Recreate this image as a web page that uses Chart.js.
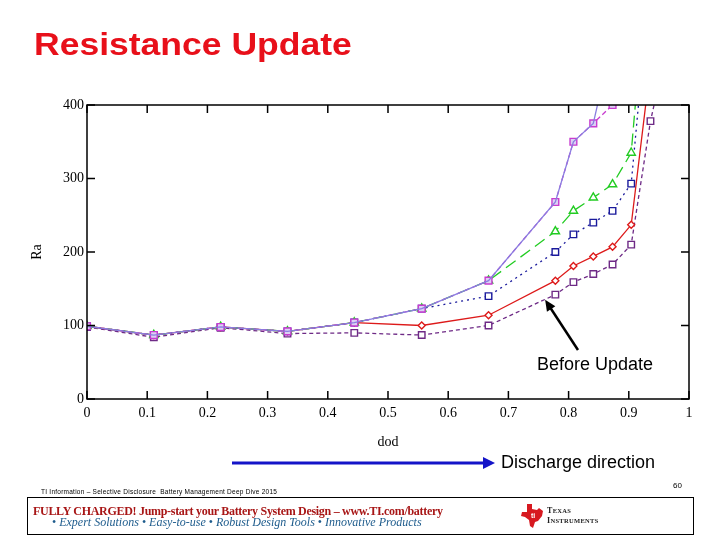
<!DOCTYPE html>
<html>
<head>
<meta charset="utf-8">
<script src="https://cdn.jsdelivr.net/npm/chart.js@4/dist/chart.umd.min.js"></script>
<style>
  html, body { margin:0; padding:0; background:#fff; }
  #wrap { position:relative; width:720px; height:540px; overflow:hidden; }
  #c { position:absolute; left:0; top:0; }
  .t { position:absolute; white-space:nowrap; }
  #title { left:34px; top:28px; font:bold 32px "Liberation Sans", Arial, sans-serif; line-height:32px; color:#e8101a; transform:scaleX(1.11); transform-origin:0 0; }
  #before { left:537px; top:355px; font:18px "Liberation Sans", Arial, sans-serif; line-height:18px; color:#000; }
  #dis { left:501px; top:453px; font:18px "Liberation Sans", Arial, sans-serif; line-height:18px; color:#000; }
  #pg { left:673px; top:482px; font:8px "Liberation Sans", Arial, sans-serif; line-height:8px; color:#000; }
  #tiny { left:41px; top:488px; font:6.5px "Liberation Sans", Arial, sans-serif; line-height:8px; color:#000; letter-spacing:0.25px; }
  #box { position:absolute; left:27px; top:497px; width:667px; height:38px; border:1px solid #000; box-sizing:border-box; }
  #l1 { left:33px; top:504px; font:bold 12px "Liberation Serif", "Times New Roman", serif; line-height:14px; color:#a81616; letter-spacing:-0.3px; }
  #l2 { left:52px; top:516px; font:italic 12px "Liberation Serif", "Times New Roman", serif; line-height:13px; color:#1d5b8c; }
  #l2 b { font-style:normal; font-weight:normal; color:#1d5b8c; }
  #ti1 { left:547px; top:506px; font:bold 8px "Liberation Serif", serif; line-height:9px; color:#222; letter-spacing:0.3px; }
  #ti2 { left:547px; top:516px; font:bold 8px "Liberation Serif", serif; line-height:9px; color:#222; letter-spacing:0.3px; }
</style>
</head>
<body>
<div id="wrap">
  <canvas id="c" width="720" height="540"></canvas>
  <div class="t" id="title">Resistance Update</div>
  <div class="t" id="before">Before Update</div>
  <div class="t" id="dis">Discharge direction</div>
  <div class="t" id="pg">60</div>
  <div class="t" id="tiny">TI Information – Selective Disclosure &nbsp;Battery Management Deep Dive 2015</div>
  <div id="box"></div>
  <div class="t" id="l1">FULLY CHARGED! Jump-start your Battery System Design – www.TI.com/battery</div>
  <div class="t" id="l2"><b>•</b> Expert Solutions <b>•</b> Easy-to-use <b>•</b> Robust Design Tools <b>•</b> Innovative Products</div>
  <svg class="t" style="left:520px;top:503px" width="24" height="26" viewBox="0 0 24 26">
    <path d="M7 1 L12 1 L12 6 L17 7 L19 5 L23 8 L22 13 L18 18 L15 19 L13 25 L10 23 L9 17 L5 14 L1 13 L2 9 L7 9 Z" fill="#d71920"/>
    <text x="11" y="15" font-family="Liberation Sans" font-size="7" font-weight="bold" fill="#fff">ti</text>
  </svg>
  <div class="t" id="ti1">T<span style="font-size:6.5px">EXAS</span></div>
  <div class="t" id="ti2">I<span style="font-size:6.5px">NSTRUMENTS</span></div>
</div>
<script>
// ---- data ----
const dod = [0, 0.111, 0.222, 0.333, 0.444, 0.556, 0.667, 0.778, 0.808, 0.841, 0.873, 0.904, 0.936, 0.967];
const raPurple     = [99, 87, 98, 92, 104, 123, 161, 268, 350, 375, 490];
const raMagenta    = [99, 87, 98, 92, 104, 123, 161, 268, 350, 375, 400, 520];
const raGreen      = [99, 87, 98, 92, 104, 123, 161, 228, 256, 274, 292, 335, 640];
const raBlue       = [99, 87, 98, 92, 104, 123, 140, 200, 224, 240, 256, 293, 577];
const raRed        = [99, 87, 98, 92, 104, 100, 114, 161, 181, 194, 207, 237, 454];
const raBefore     = [98, 84, 97, 89, 90, 87, 100, 142, 159, 170, 183, 210, 378, 492];
const xTicks = [0, 0.1, 0.2, 0.3, 0.4, 0.5, 0.6, 0.7, 0.8, 0.9, 1];
const yTicks = [0, 100, 200, 300, 400];
const xTickLabels = ['0', '0.1', '0.2', '0.3', '0.4', '0.5', '0.6', '0.7', '0.8', '0.9', '1'];
const yTickLabels = ['0', '100', '200', '300', '400'];

const pts = arr => arr.map((v, i) => ({ x: dod[i], y: v }));

const serif = { family: '"Liberation Serif", "Times New Roman", serif', size: 14 };

const ds = (data, color, opts) => Object.assign({
  data: pts(data), borderColor: color, borderWidth: 1.3, pointBorderColor: color,
  pointBackgroundColor: '#fff', pointBorderWidth: 1.4, pointRadius: 4.4, tension: 0, fill: false
}, opts);

const framePlugin = {
  id: 'frame',
  afterDatasetsDraw(chart) {
    const { ctx, chartArea: a, scales: { x, y } } = chart;
    ctx.save();
    ctx.strokeStyle = '#000';
    ctx.lineWidth = 1.5;
    ctx.strokeRect(a.left, a.top, a.right - a.left, a.bottom - a.top);
    ctx.beginPath();
    xTicks.forEach(v => {
      const px = x.getPixelForValue(v);
      ctx.moveTo(px, a.bottom); ctx.lineTo(px, a.bottom - 8);
      ctx.moveTo(px, a.top); ctx.lineTo(px, a.top + 8);
    });
    yTicks.forEach(v => {
      const py = y.getPixelForValue(v);
      ctx.moveTo(a.left, py); ctx.lineTo(a.left + 8, py);
      ctx.moveTo(a.right, py); ctx.lineTo(a.right - 8, py);
    });
    ctx.stroke();

    // "Before Update" arrow pointing at the before-update curve
    const tipX = x.getPixelForValue(0.761), tipY = y.getPixelForValue(135);
    const tailX = 578, tailY = 350;
    const ang = Math.atan2(tipY - tailY, tipX - tailX);
    ctx.strokeStyle = '#000'; ctx.fillStyle = '#000'; ctx.lineWidth = 2.5;
    ctx.beginPath(); ctx.moveTo(tailX, tailY);
    ctx.lineTo(tipX - 8 * Math.cos(ang), tipY - 8 * Math.sin(ang)); ctx.stroke();
    ctx.beginPath(); ctx.moveTo(tipX, tipY);
    ctx.lineTo(tipX - 11 * Math.cos(ang) + 5 * Math.sin(ang), tipY - 11 * Math.sin(ang) - 5 * Math.cos(ang));
    ctx.lineTo(tipX - 11 * Math.cos(ang) - 5 * Math.sin(ang), tipY - 11 * Math.sin(ang) + 5 * Math.cos(ang));
    ctx.closePath(); ctx.fill();

    // Discharge direction arrow
    ctx.strokeStyle = '#1414c8'; ctx.fillStyle = '#1414c8'; ctx.lineWidth = 3;
    ctx.beginPath(); ctx.moveTo(232, 463); ctx.lineTo(484, 463); ctx.stroke();
    ctx.beginPath(); ctx.moveTo(495, 463); ctx.lineTo(483, 457); ctx.lineTo(483, 469); ctx.closePath(); ctx.fill();
    ctx.restore();
  }
};

new Chart(document.getElementById('c'), {
  type: 'line',
  data: {
    datasets: [
      ds(raPurple, '#8a7ee0', { pointRadius: 0 }),
      ds(raMagenta, '#c83cd0', { borderDash: [5, 3], pointStyle: 'rect', pointBackgroundColor: '#dcd0f4', pointRadius: 4.8 }),
      ds(raGreen, '#22cc22', { borderDash: [12, 6], pointStyle: 'triangle', pointRadius: 4.8 }),
      ds(raBlue, '#1a1a9c', { borderDash: [2, 4], pointStyle: 'rect', pointRadius: 4.6 }),
      ds(raRed, '#dd1a1a', { pointStyle: 'rectRot', pointRadius: 3.5 }),
      ds(raBefore, '#6e2a86', { borderDash: [4, 3], pointStyle: 'rect', pointRadius: 4.6 })
    ]
  },
  options: {
    responsive: false,
    animation: false,
    layout: { padding: { left: 29, right: 31, top: 105, bottom: 81 } },
    plugins: { legend: { display: false }, tooltip: { enabled: false } },
    scales: {
      x: {
        type: 'linear', min: 0, max: 1,
        afterBuildTicks: s => { s.ticks = xTicks.map(v => ({ value: v })); },
        afterFit: s => { s.height = 60; },
        grid: { display: false, drawTicks: false },
        border: { display: false },
        ticks: { padding: 6, color: '#000', font: serif, maxRotation: 0, autoSkip: false,
                 callback: (v) => xTickLabels[xTicks.indexOf(v)] ?? '' },
        title: { display: true, text: 'dod', color: '#000', font: serif, padding: { top: 0, bottom: 8 } }
      },
      y: {
        type: 'linear', min: 0, max: 400,
        afterBuildTicks: s => { s.ticks = yTicks.map(v => ({ value: v })); },
        afterFit: s => { s.width = 58; },
        grid: { display: false, drawTicks: false },
        border: { display: false },
        ticks: { padding: 3, color: '#000', font: serif,
                 callback: (v) => yTickLabels[yTicks.indexOf(v)] ?? '' },
        title: { display: true, text: 'Ra', color: '#000', font: serif, padding: { top: 0, bottom: 0 } }
      }
    }
  },
  plugins: [framePlugin]
});
</script>
</body>
</html>
